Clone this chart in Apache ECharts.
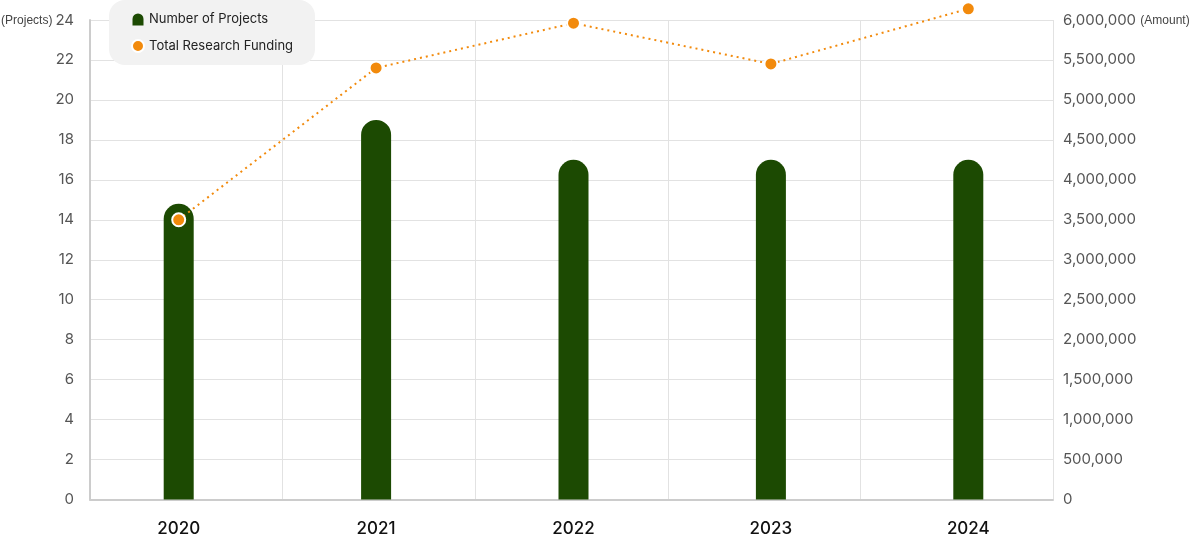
<!DOCTYPE html>
<html>
<head>
<meta charset="utf-8">
<script src="https://cdn.jsdelivr.net/npm/echarts@6/dist/echarts.min.js"></script>
<style>
html,body{margin:0;padding:0;background:#fff;}
#chart{width:1195px;height:536px;}
</style>
</head>
<body>
<div id="chart"></div>
<script>
const years = ['2020', '2021', '2022', '2023', '2024'];
const projectCounts = [14.8, 19, 17, 17, 17];
const fundingAmounts = [3500000, 5400000, 5960000, 5450000, 6140000];
const leftTicks = [0, 24, 2];
const rightTicks = [0, 6000000, 500000];

const FONT = 'Inter, "Noto Sans", sans-serif';
const chart = echarts.init(document.getElementById('chart'));

const option = {
  backgroundColor: '#fff',
  animation: false,
  textStyle: { fontFamily: FONT },
  legend: {
    orient: 'vertical',
    left: 109,
    top: 0,
    padding: [13, 22, 12, 22],
    backgroundColor: '#f2f2f2',
    borderRadius: 16,
    itemWidth: 12,
    itemHeight: 12,
    itemGap: 13,
    textStyle: { fontSize: 13, color: '#222', fontFamily: FONT },
    data: [
      { name: 'Number of Projects', icon: 'path://M0,12 L0,5.5 A5.5,5.5 0 0 1 11,5.5 L11,12 Z' },
      { name: 'Total Research Funding', icon: 'circle' }
    ]
  },
  grid: [
    { left: 90, right: 142, top: 20, bottom: 36.5, containLabel: false, outerBoundsMode: 'none' },
    { left: 80, right: 128, top: 20, bottom: 36.5, containLabel: false, outerBoundsMode: 'none' }
  ],
  xAxis: [
    {
      type: 'category', gridIndex: 0, data: years,
      axisLine: { show: true, lineStyle: { color: '#cccccc', width: 2 } },
      axisTick: { show: false },
      axisLabel: { show: false },
      splitLine: { show: true, lineStyle: { color: '#e2e2e2', width: 1 } }
    },
    {
      type: 'category', gridIndex: 1, data: years,
      axisLine: { show: false },
      axisTick: { show: false },
      axisLabel: { show: true, margin: 21, fontSize: 17, fontWeight: 500, color: '#111', fontFamily: FONT },
      splitLine: { show: false }
    }
  ],
  yAxis: [
    {
      type: 'value', gridIndex: 0, position: 'left',
      min: leftTicks[0], max: leftTicks[1], interval: leftTicks[2],
      axisLine: { show: true, lineStyle: { color: '#cccccc', width: 2 } },
      axisTick: { show: false },
      splitLine: { show: true, lineStyle: { color: '#e2e2e2', width: 1 } },
      axisLabel: {
        margin: 16, color: '#555', fontSize: 15, fontFamily: FONT,
        formatter: function (v) { return v === 24 ? '{u|(Projects)}' + v : String(v); },
        rich: { u: { fontSize: 12, color: '#444', fontFamily: '"Liberation Sans", Arial, sans-serif', padding: [2, 3, 0, 0] } }
      }
    },
    {
      type: 'value', gridIndex: 0, position: 'right',
      min: rightTicks[0], max: rightTicks[1], interval: rightTicks[2],
      axisLine: { show: false },
      axisTick: { show: false },
      splitLine: { show: false },
      axisLabel: {
        margin: 10, color: '#555', fontSize: 15, fontFamily: FONT,
        formatter: function (v) {
          const s = v.toLocaleString('en-US');
          return v === 6000000 ? s + ' {u|(Amount)}' : s;
        },
        rich: { u: { fontSize: 12, color: '#444', fontFamily: '"Liberation Sans", Arial, sans-serif', padding: [2, 0, 0, 0] } }
      }
    },
    {
      type: 'value', gridIndex: 1, min: leftTicks[0], max: leftTicks[1], interval: leftTicks[2],
      show: false
    },
    {
      type: 'value', gridIndex: 1, min: rightTicks[0], max: rightTicks[1], interval: rightTicks[2],
      show: false
    }
  ],
  series: [
    {
      name: 'Number of Projects',
      type: 'bar',
      xAxisIndex: 1, yAxisIndex: 2,
      data: projectCounts,
      barWidth: 30,
      itemStyle: { color: '#1c4a02', borderRadius: [15, 15, 0, 0] }
    },
    {
      name: 'Total Research Funding',
      type: 'line',
      xAxisIndex: 1, yAxisIndex: 3,
      data: fundingAmounts,
      clip: false,
      symbol: 'circle',
      symbolSize: 13,
      itemStyle: { color: '#f28a0c', borderColor: '#ffffff', borderWidth: 2 },
      lineStyle: { color: '#f28a0c', width: 2, type: [2, 4] },
      z: 5
    }
  ]
};
chart.setOption(option);
</script>
</body>
</html>
